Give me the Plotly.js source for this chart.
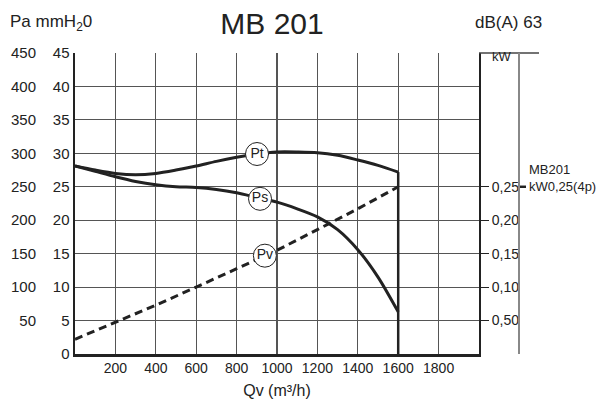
<!DOCTYPE html>
<html>
<head>
<meta charset="utf-8">
<script src="https://cdn.plot.ly/plotly-3.0.1.min.js"></script>
<style>html,body{margin:0;padding:0;background:#fff;}#chart{width:602px;height:401px;}</style>
</head>
<body>
<div id="chart"></div>
<script>
// Data (pressure in mmH2O, flow in m3/h)
const flow = [0,100,200,300,400,500,600,700,800,900,1000,1100,1200,1300,1400,1500,1600];
const ptMm = [28.1,27.5,27.0,26.8,27.0,27.5,28.1,28.8,29.4,29.9,30.2,30.2,30.1,29.7,29.0,28.2,27.2];
const psMm = [28.1,27.3,26.5,25.8,25.3,25.0,24.9,24.6,24.1,23.4,22.7,21.7,20.5,18.6,15.6,11.5,6.3];
const flowPv = [0,200,400,600,800,1000,1200,1400,1600];
const pvMm = [2.2,4.7,7.3,10.0,12.8,15.5,18.6,21.7,25.0];
const limitFlow = [1600,1600];
const limitMm = [0,27.2];
const curveNames = ['Pt','Ps','Pv'];
const labelFlow = [901,916,940];
const labelMm = [29.9,23.2,14.7];
const qTicks = [0,200,400,600,800,1000,1200,1400,1600,1800,2000];
const qTickText = ['','200','400','600','800','1000','1200','1400','1600','1800',''];
const mmTicks = [0,5,10,15,20,25,30,35,40,45];
const paTicks = [0,50,100,150,200,250,300,350,400,450];
const paTickText = ['','50','100','150','200','250','300','350','400','450'];
const kwTickVals = [25,20,15,10,5];
const kwTickText = ['0,25','0,20','0,15','0,10','0,50'];

const ink = '#222';
const font = 'Liberation Sans, Arial, Helvetica, sans-serif';

const traces = [
  {x: flow, y: ptMm, mode:'lines', line:{color:ink, width:3, shape:'spline', smoothing:0.8}, hoverinfo:'skip'},
  {x: flow, y: psMm, mode:'lines', line:{color:ink, width:3, shape:'spline', smoothing:0.8}, hoverinfo:'skip'},
  {x: flowPv, y: pvMm, mode:'lines', line:{color:ink, width:3, dash:'8px,5px'}, hoverinfo:'skip'},
  {x: limitFlow, y: limitMm, mode:'lines', line:{color:ink, width:2.5}, hoverinfo:'skip'},
  {x: labelFlow, y: labelMm, mode:'markers+text', text: curveNames, textposition:'middle center',
   textfont:{family:font, size:14, color:ink},
   marker:{symbol:'circle', size:23, color:'#fff', line:{color:ink, width:1}}, hoverinfo:'skip'},
  // invisible traces to activate overlay axes
  {x:[0], y:[0], yaxis:'y2', mode:'markers', marker:{opacity:0}, hoverinfo:'skip'},
  {x:[0], y:[0], yaxis:'y3', mode:'markers', marker:{opacity:0}, hoverinfo:'skip'}
];

const L = 36, R = 123;
const pw = 602 - L - R;
const px = v => (v - L) / pw;

const layout = {
  width: 602, height: 401,
  margin: {l: L, r: R, t: 53, b: 47},
  paper_bgcolor: '#fff', plot_bgcolor: '#fff',
  showlegend: false,
  font: {family: font, color: ink, size: 14},
  title: {text: 'MB 201', font: {family: font, size: 30, color: ink},
          xref: 'container', x: 272/602, xanchor: 'center',
          yref: 'container', y: 1 - 23/401, yanchor: 'middle'},
  xaxis: {
    domain: [px(75), 1], range: [0, 2000],
    tickvals: qTicks, ticktext: qTickText, ticks: '',
    showgrid: true, gridcolor: '#555', gridwidth: 1.2,
    showline: true, linecolor: ink, linewidth: 2.5,
    zeroline: false, fixedrange: true,
    tickfont: {size: 14},
    title: {text: 'Qv (m³/h)', font: {size: 16}, standoff: 10}
  },
  yaxis: {
    range: [0, 45], tickvals: mmTicks, ticks: '',
    showgrid: true, gridcolor: '#555', gridwidth: 1.2,
    showline: true, linecolor: ink, linewidth: 2.5,
    zeroline: false, fixedrange: true, tickfont: {size: 15}
  },
  yaxis2: {
    overlaying: 'y', anchor: 'free', position: 0, side: 'left',
    range: [0, 450], tickvals: paTicks, ticktext: paTickText, ticks: '',
    showgrid: false, showline: false, zeroline: false, fixedrange: true, tickfont: {size: 15}
  },
  yaxis3: {
    overlaying: 'y', anchor: 'x', side: 'right',
    range: [0, 45], tickvals: kwTickVals, ticktext: kwTickText,
    ticks: 'outside', ticklen: 8, tickwidth: 1.2, tickcolor: ink,
    showgrid: false, showline: true, linecolor: ink, linewidth: 2,
    zeroline: false, fixedrange: true, tickfont: {size: 14}
  },
  shapes: [
    {type:'line', xref:'paper', yref:'paper', x0: 1, x1: px(539), y0: 1, y1: 1, line:{color:'#444', width:1.3}},
    {type:'line', xref:'paper', yref:'paper', x0: px(519), x1: px(519), y0: 0, y1: 1, line:{color:'#888', width:2}},
    {type:'line', xref:'paper', yref:'y', x0: px(520), x1: px(526), y0: 25, y1: 25, line:{color:ink, width:2.5}}
  ],
  annotations: [
    {text: 'Pa mmH<sub>2</sub>0', xref:'paper', yref:'paper', x: px(8), xanchor:'left', y: 1 + 30/301, yanchor:'middle', showarrow:false, font:{size:17}},
    {text: 'dB(A) 63', xref:'paper', yref:'paper', x: px(473), xanchor:'left', y: 1 + 31/301, yanchor:'middle', showarrow:false, font:{size:17}},
    {text: 'kW', xref:'paper', yref:'paper', x: px(502), xanchor:'center', y: 1 - 4/301, yanchor:'middle', showarrow:false, font:{size:13}},
    {text: 'MB201<br>kW0,25(4p)', xref:'paper', yref:'y', x: px(527), xanchor:'left', y: 25, yanchor:'bottom', yshift:-9, align:'left', showarrow:false, font:{size:13}}
  ]
};

Plotly.newPlot('chart', traces, layout, {staticPlot: true, displayModeBar: false});
</script>
</body>
</html>
